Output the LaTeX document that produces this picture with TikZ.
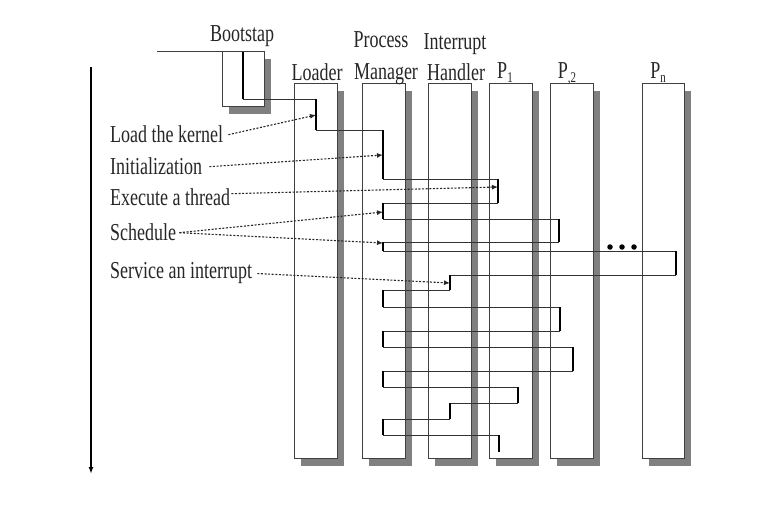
\documentclass[tikz,border=0pt]{standalone}
\usepackage{fontspec}
\setmainfont{Liberation Serif}
\usetikzlibrary{arrows.meta,shadows}
\begin{document}
\begin{tikzpicture}[x=1pt,y=-1pt,
  lane/.style={draw=black!75, line width=0.8pt, fill=white, inner sep=0pt,
    anchor=north west, minimum width=43pt, minimum height=375pt,
    drop shadow={shadow xshift=7pt, shadow yshift=-8pt, fill=black!50, draw=none, opacity=1}},
  act/.style={line width=2.4pt, black},
  hop/.style={line width=0.9pt, black!80},
  txt/.style={font=\fontsize{18}{20}\selectfont, inner sep=0pt, text=black!85},
  lbl/.style={txt, anchor=base west},
  ttl/.style={txt, anchor=base},
  note/.style={line width=1.1pt, dash pattern=on 2pt off 1.6pt, black!85,
    -{Latex[length=6pt,width=5pt]}},
  dotmark/.style={circle, fill=black, inner sep=0pt, minimum size=5.5pt}
]
\useasboundingbox (0,0) rectangle (758,530);
\newcommand\tx[1]{\scalebox{1}[1.35]{#1}}
\newcommand\sbs[1]{\raisebox{-3pt}{\fontsize{11}{11}\selectfont #1}}

% lanes
\node[lane, minimum width=42pt, minimum height=55pt] (boot) at (222,51) {};
\node[lane] (loader) at (294,83) {};
\node[lane] (pm) at (362,83) {};
\node[lane] (ih) at (428,83) {};
\node[lane] (p1) at (489,83) {};
\node[lane] (p2) at (550,83) {};
\node[lane, minimum width=42pt] (pn) at (642,83) {};

\coordinate (bootline) at (157,51);
\draw[line width=0.8pt, black!75] (bootline) -- (boot.north west);

% titles
\node[ttl] (tboot) at (242,41) {\tx{Bootstap}};
\node[ttl] (tload) at (317,80) {\tx{Loader}};
\node[ttl] (tproc) at (381,47) {\tx{Process}};
\node[ttl] (tman) at (386,79) {\tx{Manager}};
\node[ttl] (tint) at (455,49) {\tx{Interrupt}};
\node[ttl] (thand) at (456,80) {\tx{Handler}};
\node[ttl] (tp1) at (505,78) {\tx{P\sbs{1}}};
\node[ttl] (tp2) at (567,78) {\tx{P\sbs{,2}}};
\node[ttl] (tpn) at (658,78) {\tx{P\sbs{n}}};

% thread path points
\coordinate (t0) at (243,52);
\coordinate (t1) at (243,99);
\coordinate (t2) at (316,99);
\coordinate (t3) at (316,130);
\coordinate (t4) at (383,130);
\coordinate (t5) at (383,179);
\coordinate (t6) at (498,179);
\coordinate (t7) at (498,203);
\coordinate (t8) at (383,203);
\coordinate (t9) at (383,219);
\coordinate (t10) at (559,219);
\coordinate (t11) at (559,242);
\coordinate (t12) at (383,242);
\coordinate (t13) at (383,251);
\coordinate (t14) at (676,251);
\coordinate (t15) at (676,275);
\coordinate (t16) at (450,275);
\coordinate (t17) at (450,290);
\coordinate (t18) at (383,290);
\coordinate (t19) at (383,307);
\coordinate (t20) at (560,307);
\coordinate (t21) at (560,331);
\coordinate (t22) at (383,331);
\coordinate (t23) at (383,347);
\coordinate (t24) at (573,347);
\coordinate (t25) at (573,371);
\coordinate (t26) at (383,371);
\coordinate (t27) at (383,387);
\coordinate (t28) at (518,387);
\coordinate (t29) at (518,403);
\coordinate (t30) at (450,403);
\coordinate (t31) at (450,419);
\coordinate (t32) at (383,419);
\coordinate (t33) at (383,435);
\coordinate (t34) at (499,435);
\coordinate (t35) at (499,452);

\foreach \a/\b in {1/2,3/4,5/6,7/8,9/10,11/12,13/14,15/16,17/18,19/20,21/22,23/24,25/26,27/28,29/30,31/32,33/34}
  \draw[hop] (t\a) -- (t\b);
\foreach \a/\b in {0/1,2/3,4/5,6/7,8/9,10/11,12/13,14/15,16/17,18/19,20/21,22/23,24/25,26/27,28/29,30/31,32/33,34/35}
  \draw[act] (t\a) -- (t\b);

% ellipsis dots
\node[dotmark] (d1) at (610,247) {};
\node[dotmark] (d2) at (622,247) {};
\node[dotmark] (d3) at (634,247) {};

% time arrow
\coordinate (time0) at (91,67);
\coordinate (time1) at (91,474);
\draw[line width=1.4pt, -{Latex[length=7pt,width=5pt]}] (time0) -- (time1);

% labels
\node[lbl] (lk) at (110,142) {\tx{Load the kernel}};
\node[lbl] (li) at (110,174) {\tx{Initialization}};
\node[lbl] (le) at (110,205) {\tx{Execute a thread}};
\node[lbl] (ls) at (110,240) {\tx{Schedule}};
\node[lbl] (lsi) at (110,278) {\tx{Service an interrupt}};

\coordinate (a1) at (316,115);
\coordinate (a2) at (383,155);
\coordinate (a3) at (498,187);
\coordinate (a4) at (383,212);
\coordinate (a5) at (383,243);
\coordinate (a6) at (450,283);

\draw[note] ([xshift=5pt,yshift=-1pt]lk.east) -- (a1);
\draw[note] ([xshift=7pt,yshift=-1pt]li.east) -- (a2);
\draw[note] ([xshift=1pt,yshift=3pt]le.east) -- (a3);
\draw[note] ([xshift=3pt,yshift=-1pt]ls.east) -- (a4);
\draw[note] ([xshift=3pt,yshift=-1pt]ls.east) -- (a5);
\draw[note] ([xshift=5pt,yshift=-1pt]lsi.east) -- (a6);
\end{tikzpicture}
\end{document}
